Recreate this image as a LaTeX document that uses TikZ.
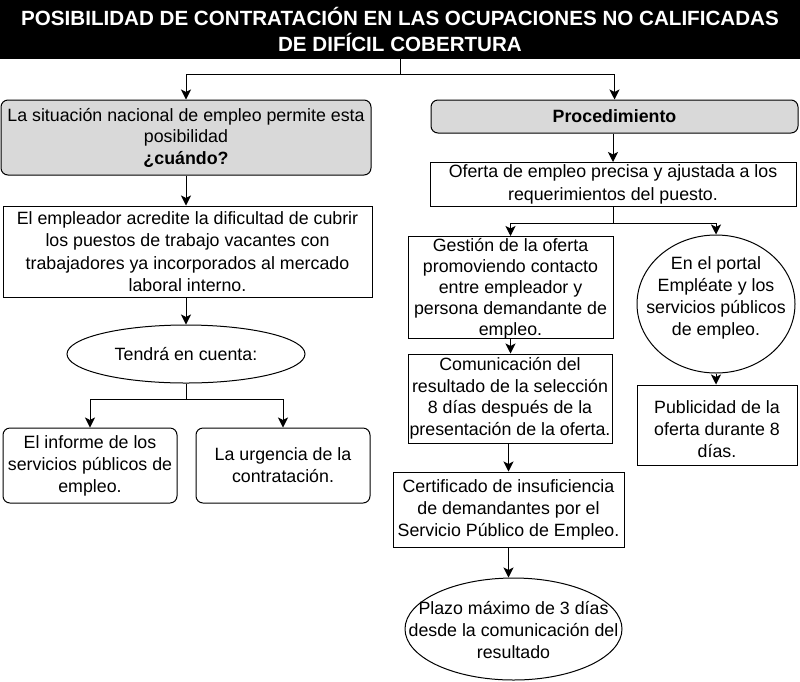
\documentclass[tikz,border=0pt]{standalone}
\usepackage{fontspec}
\setmainfont{Liberation Sans}
\usetikzlibrary{shapes.geometric,arrows.meta}
\definecolor{boxgray}{HTML}{D9D9D9}
\tikzset{
  body/.style={font={\fontsize{17.8}{22}\selectfont}},
  box/.style={draw, line width=1pt, align=center, inner sep=0pt, body},
  rbox/.style={box, rounded corners=7pt},
  gbox/.style={rbox, fill=boxgray},
  ell/.style={draw, ellipse, line width=1pt, inner sep=0pt},
  txt/.style={align=center, inner sep=0pt, body},
  arr/.style={-{Stealth[length=10pt,width=10pt,inset=2.5pt]}, line width=1pt},
  ln/.style={line width=1pt}
}
\begin{document}
\begin{tikzpicture}[x=1pt,y=-1pt]
\useasboundingbox (0,0) rectangle (800,681);
% title
\node[fill=black, text=white, align=center, inner sep=0pt, minimum width=800pt, minimum height=59pt,
  font={\fontsize{20.6}{26}\selectfont\bfseries}] (title) at (400,29.5)
  {POSIBILIDAD DE CONTRATACIÓN EN LAS OCUPACIONES NO CALIFICADAS\\DE DIFÍCIL COBERTURA};
% left column
\node[gbox, minimum width=370pt, minimum height=75pt, font={\fontsize{17.8}{21.5}\selectfont}] (sit) at (186,137.5)
  {La situación nacional de empleo permite esta\\posibilidad\\\textbf{¿cuándo?}};
\node[box, minimum width=369pt, minimum height=91pt, font={\fontsize{17.8}{22.3}\selectfont}] (emp) at (187.5,251.5)
  {El empleador acredite la dificultad de cubrir\\los puestos de trabajo vacantes con\\trabajadores ya incorporados al mercado\\laboral interno.};
\node[ell, minimum width=238pt, minimum height=58pt] (tend) at (186,354) {};
\node[txt] (tendT) at (tend.center) {Tendrá en cuenta:};
\node[rbox, minimum width=174pt, minimum height=75pt] (inf) at (90,465.5)
  {El informe de los\\servicios públicos de\\empleo.};
\node[rbox, minimum width=174pt, minimum height=75pt] (urg) at (283,465.5)
  {La urgencia de la\\contratación.};
% right column
\node[gbox, minimum width=367pt, minimum height=33pt] (proc) at (614.5,116.5) {\textbf{Procedimiento}};
\node[box, minimum width=366pt, minimum height=44pt, font={\fontsize{17.8}{23}\selectfont}] (ofe) at (613,184.5)
  {Oferta de empleo precisa y ajustada a los\\requerimientos del puesto.};
\node[box, minimum width=205pt, minimum height=102pt] (gest) at (510.5,287.5) {};
\node[txt, font={\fontsize{17.8}{21}\selectfont}] (gestT) at (510.5,289)
  {Gestión de la oferta\\promoviendo contacto\\entre empleador y\\persona demandante de\\empleo.};
\node[ell, minimum width=158pt, minimum height=138pt] (portal) at (716,304) {};
\node[txt] (portalT) at (716,298) {En el portal\\Empléate y los\\servicios públicos\\de empleo.};
\node[box, minimum width=204pt, minimum height=89pt, font={\fontsize{17.8}{21.5}\selectfont}] (com) at (510,398.5)
  {Comunicación del\\resultado de la selección\\8 días después de la\\presentación de la oferta.};
\node[box, minimum width=160pt, minimum height=80pt] (pub) at (717,425) {};
\node[txt] (pubT) at (717,429) {Publicidad de la\\oferta durante 8\\días.};
\node[box, minimum width=231pt, minimum height=75pt] (cert) at (508.5,509.5)
  {Certificado de insuficiencia\\de demandantes por el\\Servicio Público de Empleo.};
\node[ell, minimum width=217pt, minimum height=102pt] (plazo) at (513.5,629) {};
\node[txt] (plazoT) at (513.5,630) {Plazo máximo de 3 días\\desde la comunicación del\\resultado};
% connectors
\draw[arr] (title.south) -- ++(0,15) -| (sit.north);
\draw[arr] (title.south) -- ++(0,15) -| (proc.north);
\draw[arr] (sit.south) -- (sit.south |- emp.north);
\draw[arr] (emp.south -| tend.north) -- (tend.north);
\draw[arr] (tend.south) -- ++(0,16) -| (inf.north);
\draw[arr] (tend.south) -- ++(0,16) -| (urg.north);
\draw[arr] (proc.south -| ofe.north) -- (ofe.north);
\draw[arr] (ofe.south) -- ++(0,16) -| (gest.north);
\draw[arr] (ofe.south) -- ++(0,16) -| (portal.north);
\draw[arr] (gest.south) -- (gest.south |- com.north);
\draw[arr] (portal.south) -- (portal.south |- pub.north);
\draw[arr] (com.south -| cert.north) -- (cert.north);
\draw[arr] (cert.south) -- (cert.south |- plazo.north);
\end{tikzpicture}
\end{document}
